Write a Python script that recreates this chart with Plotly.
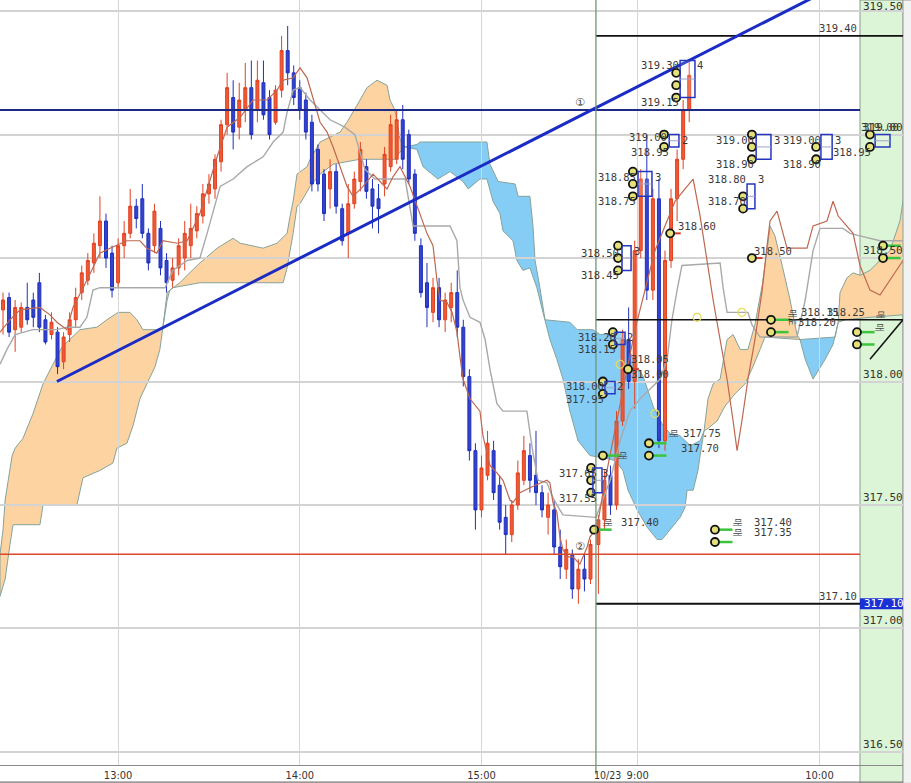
import plotly.graph_objects as go

# ---------------- time axis (minute slots, two sessions) ----------------
def slot(day, hhmm):
    h, m = (int(v) for v in hhmm.split(":"))
    if day == 1:
        return h * 60 + m - (12 * 60 + 21)
    return 196.6 + h * 60 + m - (8 * 60 + 46)

def fmt(total):
    return f"{total // 60}:{total % 60:02d}"

day1_times = [fmt(12 * 60 + 22 + 2 * i) for i in range(98)]
day2_times = [fmt(8 * 60 + 47 + 2 * i) for i in range(16)]

tick_times = [(1, "13:00"), (1, "14:00"), (1, "15:00"), (2, "9:00"), (2, "10:00")]
tick_text = ["13:00", "14:00", "15:00", "9:00", "10:00"]
day_break = (2, "8:46")
date_label = "10/23"

# ---------------- candles ----------------
day1_open = [318.29,318.34,318.21,318.22,318.30,318.33,318.40,318.25,318.19,318.20,
             318.08,318.19,318.25,318.36,318.41,318.48,318.55,318.65,318.52,318.40,
             318.55,318.60,318.71,318.74,318.60,318.55,318.62,318.49,318.41,318.46,
             318.50,318.55,318.61,318.67,318.76,318.78,318.89,319.04,319.15,319.03,
             319.10,319.19,319.10,319.21,319.15,319.05,319.18,319.34,319.25,319.19,
             319.14,319.05,318.94,318.84,318.78,318.85,318.70,318.60,318.72,318.81,
             318.87,318.78,318.74,318.80,318.87,318.90,319.06,319.00,318.84,318.55,
             318.40,318.28,318.38,318.25,318.30,318.36,318.22,318.02,317.72,317.48,
             317.62,317.72,317.58,317.45,317.38,317.50,317.60,317.70,317.62,317.55,
             317.45,317.48,317.33,317.24,317.30,317.16,317.24,317.20]
day1_high = [318.36,318.36,318.33,318.32,318.40,318.36,318.44,318.27,318.28,318.22,
             318.20,318.28,318.38,318.47,318.52,318.60,318.75,318.68,318.55,318.58,
             318.65,318.78,318.74,318.80,318.62,318.72,318.65,318.52,318.50,318.58,
             318.65,318.72,318.71,318.80,318.84,318.92,319.06,319.25,319.22,319.21,
             319.29,319.30,319.30,319.30,319.18,319.20,319.40,319.44,319.28,319.22,
             319.17,319.08,318.96,318.86,318.90,318.88,318.72,318.80,318.85,318.97,
             318.90,318.82,318.80,318.95,319.08,319.10,319.12,319.02,318.86,318.58,
             318.48,318.42,318.42,318.36,318.40,318.45,318.25,318.05,317.75,317.70,
             317.80,317.76,317.62,317.50,317.52,317.68,317.78,317.75,317.80,317.58,
             317.55,317.52,317.40,317.36,317.32,317.28,317.30,317.36]
day1_low = [318.19,318.18,318.12,318.20,318.23,318.22,318.20,318.15,318.17,318.03,
            318.05,318.16,318.22,318.33,318.39,318.44,318.50,318.46,318.34,318.38,
            318.50,318.58,318.62,318.58,318.45,318.52,318.43,318.36,318.38,318.43,
            318.45,318.50,318.58,318.64,318.72,318.74,318.85,319.00,318.94,318.98,
            319.05,318.98,319.05,319.06,318.98,319.04,319.15,319.20,319.12,319.06,
            318.98,318.77,318.77,318.65,318.70,318.68,318.55,318.50,318.70,318.77,
            318.74,318.62,318.60,318.75,318.85,318.88,318.86,318.80,318.57,318.34,
            318.22,318.24,318.22,318.20,318.24,318.18,317.98,317.68,317.40,317.45,
            317.60,317.52,317.40,317.30,317.35,317.48,317.58,317.55,317.50,317.45,
            317.38,317.30,317.20,317.20,317.12,317.10,317.15,317.18]
day1_close = [318.33,318.20,318.30,318.30,318.25,318.26,318.22,318.16,318.24,318.06,
              318.18,318.25,318.34,318.44,318.49,318.56,318.65,318.50,318.37,318.55,
              318.60,318.71,318.66,318.60,318.48,318.69,318.46,318.40,318.46,318.55,
              318.60,318.62,318.68,318.76,318.80,318.90,319.04,319.19,319.01,319.14,
              319.19,319.00,319.22,319.08,319.00,319.18,319.34,319.25,319.15,319.10,
              319.01,318.80,318.80,318.68,318.85,318.71,318.57,318.72,318.82,318.94,
              318.77,318.71,318.70,318.92,319.04,319.06,318.90,318.82,318.60,318.36,
              318.30,318.38,318.25,318.33,318.36,318.22,318.02,317.72,317.48,317.65,
              317.75,317.55,317.43,317.38,317.50,317.63,317.72,317.60,317.55,317.48,
              317.50,317.33,317.25,317.32,317.16,317.24,317.20,317.34]

day2_open = [317.34,317.44,317.62,317.50,317.84,318.17,318.00,318.53,318.82,318.37,318.74,317.76,318.49,318.74,318.90,319.10]
day2_high = [317.46,317.64,317.66,317.88,318.21,318.30,318.57,318.86,319.00,318.78,318.82,318.53,318.78,318.94,319.14,319.30]
day2_low = [317.14,317.40,317.46,317.48,317.82,317.97,317.89,318.50,318.33,318.33,317.73,317.72,318.46,318.65,318.86,319.05]
day2_close = [317.44,317.60,317.50,317.84,318.17,318.00,318.53,318.82,318.37,318.74,317.76,318.49,318.74,318.90,319.10,319.24]

# ---------------- ichimoku clouds (x = minute slot, y = price) ----------------
kumo1_upper_x = [0,1.0,1.7,4.0,5.0,7.6,10.9,14.2,17.5,20.5,26.4,32.0,35.3,39.0,42.9,45.2,47.2,51.8,53.8,55.2,56.1,59.4,61.8,66.0,71.7,77.0,79.3,86.9,91.5,94.8,95.8,96.8,98.1,101.4,102.4,105.7,112.3,114.6,118.9,121.2,124.5,127.8,128.8,130.4,132.1,133.8]
kumo1_upper_y = [317.30,317.40,317.52,317.70,317.73,317.77,317.87,317.99,318.07,318.14,318.21,318.22,318.25,318.28,318.28,318.25,318.21,318.21,318.22,318.33,318.37,318.40,318.43,318.48,318.54,318.58,318.56,318.54,318.56,318.60,318.67,318.73,318.84,318.87,318.90,318.97,319.01,319.05,319.14,319.19,319.22,319.20,319.14,319.10,318.98,318.95]
kumo1_lower_x = [131.4,130.4,118.9,110.0,105.7,102.4,99.1,98.1,96.8,95.8,94.8,93.5,66.0,57.1,55.2,53.8,52.8,51.2,48.5,46.2,43.9,41.9,38.6,37.3,33.0,27.4,25.4,14.2,13.2,4.3,3.3,1.7,0]
kumo1_lower_y = [318.92,318.90,318.90,318.88,318.84,318.79,318.72,318.71,318.60,318.53,318.46,318.40,318.40,318.38,318.36,318.22,318.13,318.06,317.99,317.93,317.82,317.75,317.73,317.67,317.64,317.61,317.50,317.50,317.42,317.42,317.34,317.20,317.13]

kumo2_upper_x = [133.8,137.7,138.7,160.8,161.8,164.5,170.1,171.1,175.0,176.0,176.7,178.3,180.0,188.2,190.6,195.8,198.2,205.7,209.0,212.4,215.7,219.0,221.3,224.6,228.0,231.2,232.5]
kumo2_upper_y = [318.95,318.96,318.97,318.97,318.88,318.81,318.80,318.75,318.75,318.63,318.49,318.38,318.25,318.24,318.21,318.21,318.19,318.20,318.09,318.02,317.90,317.82,317.79,317.78,317.74,317.76,317.80]
kumo2_lower_x = [231.2,230.5,228.9,226.9,226.2,224.6,221.3,218.6,217.0,213.7,210.4,207.4,205.7,203.1,199.8,194.8,190.9,188.2,185.9,183.9,181.6,179.3,177.3,175.0,172.7,170.7,169.4,166.1,165.1,162.8,160.8,158.5,154.6,152.9,148.6,144.6,139.7,137.7]
kumo2_lower_y = [317.70,317.64,317.56,317.56,317.49,317.45,317.40,317.36,317.36,317.41,317.48,317.56,317.64,317.68,317.69,317.70,317.76,317.88,318.01,318.09,318.17,318.28,318.38,318.46,318.45,318.49,318.57,318.61,318.68,318.73,318.82,318.82,318.78,318.81,318.85,318.82,318.87,318.94]

kumo3_upper_x = [232.5,233.8,235.5,237.8,240.1,242.1,244.4,247.0,249.3,251.7,253.3,254.3,255.9,258.3,260.9,263.2,264.2]
kumo3_upper_y = [317.80,317.93,317.99,318.01,318.17,318.19,318.13,318.13,318.23,318.39,318.53,318.63,318.59,318.47,318.33,318.19,318.17]
kumo3_lower_x = [252.6,251.0,248.3,246.0,242.7,239.4,236.8,233.8]
kumo3_lower_y = [318.18,318.13,318.05,317.99,317.95,317.90,317.84,317.81]

kumo4_x = [264.2,275.8,276.8,275.1,272.5,268.5,265.9]
kumo4_y = [318.17,318.18,318.24,318.15,318.09,318.01,318.09]

kumo5_x = [276.8,277.4,279.7,281.7,284.0,287.3,290.6,293.9,297.2,298.2,298.2,287.3,279.1]
kumo5_y = [318.24,318.36,318.42,318.44,318.43,318.45,318.49,318.53,318.65,318.73,318.27,318.26,318.25]

# ---------------- conversion / base lines ----------------
tenkan_x = [0,3.3,6.6,13.2,16.5,18.8,22.1,24.1,28.7,33.0,36.3,41.9,46.2,48.5,51.8,53.8,58.5,61.8,66.0,68.4,71.7,75.0,79.3,83.6,88.2,91.5,93.5,96.8,99.1,101.4,103.4,105.7,108.0,110.0,112.3,114.6,116.6,119.9,123.2,127.8,129.8,132.1,135.4,137.7,141.0,143.0,144.3,145.3,147.6,149.3,150.9,151.9,152.9,155.2,158.5,159.5,161.8,164.1,166.1,168.4,169.4,171.7,175.0,180.6,181.6,182.6,183.9,184.9,185.9,187.3,189.2,191.5,193.9,194.8,197.2,199.8,203.1,206.4,209.7,213.0,216.3,219.6,222.9,226.2,228.9,231.2,233.5,235.5,237.8,240.1,242.1,243.4,245.0,247.0,249.3,251.7,253.3,254.3,256.6,258.3,259.9,266.5,268.5,273.1,275.1,276.8,279.7,281.7,284.0,287.3,290.6,293.9,298.2]
tenkan_y = [318.20,318.25,318.29,318.30,318.27,318.24,318.21,318.30,318.41,318.52,318.54,318.57,318.57,318.54,318.52,318.57,318.56,318.57,318.68,318.78,318.91,319.03,319.07,319.14,319.14,319.18,319.22,319.23,319.27,319.23,319.15,319.05,319.01,318.95,318.87,318.79,318.75,318.79,318.84,318.78,318.83,318.87,318.79,318.71,318.60,318.55,318.41,318.33,318.32,318.28,318.20,318.10,318.01,317.93,317.88,317.78,317.66,317.63,317.60,317.52,317.51,317.55,317.57,317.60,317.59,317.51,317.47,317.37,317.32,317.29,317.29,317.26,317.33,317.37,317.41,317.60,317.80,318.01,318.21,318.37,318.53,318.63,318.73,318.78,318.82,318.67,318.49,318.33,318.17,318.01,317.84,317.72,317.84,318.01,318.17,318.37,318.55,318.65,318.69,318.61,318.54,318.54,318.63,318.65,318.73,318.67,318.63,318.60,318.47,318.37,318.35,318.41,318.49]

kijun_x = [0,2.3,5.0,10.9,18.8,22.1,26.4,28.7,30.7,33.0,54.5,57.1,61.8,66.0,68.4,70.3,72.7,77.0,81.6,86.9,90.2,93.5,94.8,96.8,99.1,102.4,105.7,109.0,113.9,117.2,120.5,123.8,130.4,133.8,136.4,148.6,150.9,151.9,152.9,155.2,158.5,160.2,161.8,164.1,166.1,174.0,176.0,177.7,180.6,182.6,184.9,185.9,196.8,201.5,204.8,208.0,211.4,214.7,218.0,220.3,221.9,223.6,225.2,237.8,238.8,240.1,247.0,248.3,251.0,263.2,265.9,268.5,270.8,278.4,280.7,284.0,290.6,298.2]
kijun_y = [318.07,318.13,318.19,318.21,318.21,318.22,318.22,318.26,318.37,318.38,318.38,318.45,318.49,318.50,318.60,318.68,318.79,318.82,318.87,318.91,318.97,319.01,319.09,319.18,319.19,319.14,319.10,319.06,319.03,319.00,318.86,318.82,318.82,318.82,318.63,318.63,318.57,318.38,318.33,318.26,318.24,318.17,318.05,317.91,317.88,317.88,317.71,317.60,317.59,317.53,317.48,317.46,317.45,317.60,317.76,317.88,317.93,317.97,318.01,318.09,318.25,318.37,318.47,318.48,318.38,318.28,318.28,318.23,318.18,318.18,318.33,318.53,318.62,318.62,318.60,318.59,318.57,318.57]

# ---------------- drawn lines ----------------
resist_1_price = 319.10      # navy line (1)
support_2_price = 317.30     # red line (2)
level_high = 319.40
level_mid = 318.25
level_low = 317.10
trend_x = [18.8, 298.2]
trend_y = [318.00, 319.74]
panel_diag_x = [287.3, 298.2]
panel_diag_y = [318.09, 318.25]

# ---------------- order markers / labels ----------------
marker_x = [223.3,223.3,223.3,219.3,219.3,209.0,209.0,209.0,248.3,248.3,248.3,269.5,269.5,287.3,287.3,245.4,245.4,204.1,204.1,204.1,221.3,248.3,202.4,202.4,207.4,199.1,199.1,214.3,214.3,195.2,195.2,195.2,199.1,196.2,236.1,236.1,254.6,254.6,283.0,283.0,291.6,291.6]
marker_y = [319.25,319.20,319.15,319.00,318.95,318.85,318.80,318.75,319.00,318.95,318.90,318.95,318.90,319.00,318.95,318.75,318.70,318.55,318.50,318.45,318.60,318.50,318.20,318.15,318.05,318.00,317.95,317.75,317.70,317.65,317.60,317.55,317.70,317.40,317.40,317.35,318.25,318.20,318.20,318.15,318.55,318.50]
green_tick_x = [214.3,214.3,199.1,196.2,236.1,236.1,254.6,254.6,283.0,283.0,291.6,291.6]
green_tick_y = [317.75,317.70,317.70,317.40,317.40,317.35,318.25,318.20,318.20,318.15,318.55,318.50]
red_tick_x = [221.3,248.3,207.4]
red_tick_y = [318.60,318.50,318.05]
faint_x = [204.8,230.2,245.0,216.3]
faint_y = [318.07,318.26,318.28,317.87]

box_x0 = [224.6,221.0,210.7,249.7,271.1,289.0,246.7,205.4,203.1,199.8,195.8]
box_x1 = [229.5,224.2,215.3,254.6,274.8,293.9,249.3,208.4,206.4,203.1,198.8]
box_y0 = [319.15,318.95,318.75,318.90,318.90,318.95,318.70,318.45,318.15,317.95,317.55]
box_y1 = [319.30,319.00,318.85,319.00,319.00,319.00,318.80,318.55,318.20,318.00,317.65]

label_text = ["319.30","319.15","4","319.00","318.95","2","318.85","318.75","3","319.00","318.90","3",
              "319.00","318.90","3","319.00","318.95","318.80","318.70","3","318.50","318.45","3",
              "318.60","318.50","318.20","318.15","2","318.05","318.00","318.00","317.95","2",
              "317.75","317.70","317.65","317.55","3","317.40","317.40","317.35","318.15","318.20",
              "318.25","319.40","317.10"]
label_x = [218.0,218.0,231.2,214.0,214.7,226.2,203.8,203.8,217.3,242.7,242.7,256.6,
           264.9,264.9,276.8,290.6,281.4,240.1,240.1,251.3,198.2,198.2,210.4,
           230.2,255.3,197.2,197.2,208.1,214.7,214.7,193.2,193.2,204.8,
           231.8,231.2,190.9,190.9,199.8,211.2,255.2,255.2,270.8,269.8,
           279.5,276.8,276.8]
label_y = [319.28,319.13,319.28,318.99,318.93,318.98,318.83,318.73,318.83,318.98,318.88,318.98,
           318.98,318.88,318.98,319.03,318.93,318.82,318.73,318.82,318.52,318.43,318.53,
           318.63,318.53,318.18,318.13,318.18,318.09,318.03,317.98,317.93,317.98,
           317.79,317.73,317.63,317.53,317.63,317.43,317.43,317.39,318.28,318.24,
           318.28,319.43,317.13]

kr_text = ["매", "매", "매", "매", "매", "매도", "매", "매"]
kr_x = [200.8, 243.7, 243.7, 222.3, 205.4, 261.9, 290.6, 290.6]
kr_y = [317.43, 317.43, 317.39, 317.79, 317.70, 318.26, 318.27, 318.22]

circled_text = ["①", "②"]
circled_x = [191.5, 191.5]
circled_y = [319.13, 317.33]

y_levels = [319.5, 319.0, 318.5, 318.0, 317.5, 317.0, 316.5]

# ======================= figure =======================
X_MAX = 298.2
Y_RANGE = [316.447, 319.545]
PANEL_X0 = 284.0

fig = go.Figure()

cx = [slot(1, t) for t in day1_times] + [slot(2, t) for t in day2_times]
fig.add_trace(go.Candlestick(
    x=cx,
    open=day1_open + day2_open, high=day1_high + day2_high,
    low=day1_low + day2_low, close=day1_close + day2_close,
    increasing=dict(line=dict(color="#e2401f", width=1), fillcolor="#ef5a36"),
    decreasing=dict(line=dict(color="#1f2fbf", width=1), fillcolor="#3444cc"),
    whiskerwidth=0, showlegend=False, hoverinfo="skip"))

fig.add_trace(go.Scatter(x=kijun_x, y=kijun_y, mode="lines",
                         line=dict(color="#a9a9a9", width=1.4), showlegend=False))
fig.add_trace(go.Scatter(x=tenkan_x, y=tenkan_y, mode="lines",
                         line=dict(color="#bf6750", width=1.2), showlegend=False))

def hline(price, x0, x1, color, width):
    fig.add_trace(go.Scatter(x=[x0, x1], y=[price, price], mode="lines",
                             line=dict(color=color, width=width), showlegend=False,
                             hoverinfo="skip"))

day_start = slot(*day_break) + 0.2
hline(resist_1_price, 0, PANEL_X0, "#1f2a86", 2)
hline(support_2_price, 0, PANEL_X0, "#d9472c", 1.5)
hline(level_high, day_start, X_MAX, "#111111", 1.8)
hline(level_mid, day_start, X_MAX, "#111111", 1.6)
hline(level_low, day_start, PANEL_X0, "#111111", 1.8)

fig.add_trace(go.Scatter(x=trend_x, y=trend_y, mode="lines",
                         line=dict(color="#1a2cc4", width=3), showlegend=False))
fig.add_trace(go.Scatter(x=panel_diag_x, y=panel_diag_y, mode="lines",
                         line=dict(color="#111111", width=1.5), showlegend=False))

# short ticks from markers
def ticks(xs, ys, length):
    sx, sy = [], []
    for a, b in zip(xs, ys):
        sx += [a, a + length, None]
        sy += [b, b, None]
    return sx, sy

gx, gy = ticks(green_tick_x, green_tick_y, 5.8)
fig.add_trace(go.Scatter(x=gx, y=gy, mode="lines", line=dict(color="#3cc43c", width=2.5),
                         showlegend=False))
rx, ry = ticks(red_tick_x, red_tick_y, 3.5)
fig.add_trace(go.Scatter(x=rx, y=ry, mode="lines", line=dict(color="#d83a2a", width=2),
                         showlegend=False))

fig.add_trace(go.Scatter(x=faint_x, y=faint_y, mode="markers",
                         marker=dict(symbol="circle-open", size=8, color="#e8dc58",
                                     line=dict(width=1.2)), showlegend=False))
fig.add_trace(go.Scatter(x=marker_x, y=marker_y, mode="markers",
                         marker=dict(symbol="circle", size=8, color="#e4e07a",
                                     line=dict(color="#111111", width=1.8)), showlegend=False))

shapes = []
# right price panel
px0 = PANEL_X0 / X_MAX
shapes.append(dict(type="rect", xref="paper", yref="paper", x0=px0, x1=1, y0=-0.024, y1=1,
                   fillcolor="#dcf5d6", line=dict(color="#8c9a8c", width=1), layer="below"))
shapes.append(dict(type="rect", xref="paper", yref="paper", x0=1, x1=1.0095, y0=-0.024, y1=1,
                   fillcolor="#f2f2f2", line=dict(color="#9a9a9a", width=1), layer="below"))

def poly(xs, ys):
    return "M " + " L ".join(f"{a},{b}" for a, b in zip(xs, ys)) + " Z"

ORANGE = "#fdd3a1"
BLUE = "#86cdf6"
EDGE = dict(color="#85a39a", width=1)
for xs, ys, col in [
    (kumo1_upper_x + kumo1_lower_x, kumo1_upper_y + kumo1_lower_y, ORANGE),
    (kumo2_upper_x + kumo2_lower_x, kumo2_upper_y + kumo2_lower_y, BLUE),
    (kumo3_upper_x + kumo3_lower_x, kumo3_upper_y + kumo3_lower_y, ORANGE),
    (kumo4_x, kumo4_y, BLUE),
    (kumo5_x, kumo5_y, ORANGE),
]:
    shapes.append(dict(type="path", xref="x", yref="y", path=poly(xs, ys),
                       fillcolor=col, line=EDGE, layer="below"))

# session separator
shapes.append(dict(type="line", xref="x", yref="paper", x0=slot(*day_break) + 0.2,
                   x1=slot(*day_break) + 0.2, y0=-0.012, y1=1,
                   line=dict(color="#6f9478", width=1.3)))
# bottom frame of time label band
shapes.append(dict(type="line", xref="paper", yref="paper", x0=0, x1=1, y0=-0.0225, y1=-0.0225,
                   line=dict(color="#777777", width=1.2)))

# order boxes
for a, b, c, d in zip(box_x0, box_x1, box_y0, box_y1):
    shapes.append(dict(type="rect", xref="x", yref="y", x0=a, x1=b, y0=c, y1=d,
                       line=dict(color="#2436c0", width=1.5), fillcolor="rgba(255,255,255,0.15)"))
    shapes.append(dict(type="line", xref="x", yref="y", x0=a, x1=b, y0=(c + d) / 2, y1=(c + d) / 2,
                       line=dict(color="#a0a0c8", width=1)))

# current-price highlight on the axis
shapes.append(dict(type="rect", xref="paper", yref="y", x0=px0, x1=1, y0=level_low - 0.022,
                   y1=level_low + 0.022, fillcolor="#1a30d4", line=dict(width=0)))

annotations = []
LBL = dict(family="DejaVu Sans Mono, monospace", size=10.5, color="#3a3a3a")
for t, a, b in zip(label_text, label_x, label_y):
    annotations.append(dict(x=a, y=b, text=t, showarrow=False, font=LBL,
                            xanchor="center", yanchor="middle"))
for t, a, b in zip(kr_text, kr_x, kr_y):
    annotations.append(dict(x=a, y=b, text=t, showarrow=False, textangle=90,
                            font=dict(family="Noto Sans CJK KR", size=9, color="#444444")))
for t, a, b in zip(circled_text, circled_x, circled_y):
    annotations.append(dict(x=a, y=b, text=t, showarrow=False,
                            font=dict(family="DejaVu Sans", size=11, color="#444444")))

AX = dict(family="DejaVu Sans Mono, monospace", size=11, color="#333333")
for lv in y_levels:
    if lv == max(y_levels):
        annotations.append(dict(x=px0 + 0.002, xref="paper", y=1, yref="paper",
                                text=f"{lv:.2f}", showarrow=False, xanchor="left",
                                yanchor="top", font=AX, borderpad=0, yshift=1))
    else:
        annotations.append(dict(x=px0 + 0.002, xref="paper", y=lv, yref="y", text=f"{lv:.2f}",
                                showarrow=False, xanchor="left", yanchor="bottom", font=AX,
                                borderpad=0))
annotations.append(dict(x=px0 + 0.002, xref="paper", y=level_low, yref="y",
                        text=f"{level_low:.2f}", showarrow=False, xanchor="left",
                        yanchor="middle", font=dict(family="DejaVu Sans Mono, monospace",
                                                    size=11, color="#ffffff")))
annotations.append(dict(x=slot(*day_break) + 4, xref="x", y=0, yref="paper", text=date_label,
                        showarrow=False, yanchor="top", yshift=-3, borderpad=0,
                        font=dict(family="Liberation Sans Narrow, DejaVu Sans Condensed, sans-serif",
                                  size=10.5, color="#333333")))

fig.update_layout(
    width=911, height=783,
    margin=dict(l=0, r=8, t=0, b=18),
    paper_bgcolor="#ffffff", plot_bgcolor="#ffffff",
    showlegend=False,
    shapes=shapes, annotations=annotations,
    xaxis=dict(range=[0, X_MAX], rangeslider=dict(visible=False),
               tickvals=[slot(d, t) for d, t in tick_times], ticktext=tick_text,
               showgrid=True, gridcolor="#d6d6d6", gridwidth=1.3, zeroline=False,
               showline=True, linecolor="#8a8a8a", linewidth=1.2, ticks="",
               tickfont=dict(family="Liberation Sans Narrow, DejaVu Sans Condensed, sans-serif",
                             size=11, color="#333333"), fixedrange=True),
    yaxis=dict(range=Y_RANGE, tickvals=y_levels, showticklabels=False,
               showgrid=True, gridcolor="#d3d3d3", gridwidth=1.5, zeroline=False,
               fixedrange=True),
)

fig.write_html("out.html", config={"displayModeBar": False},
               post_script="document.body.style.margin='0';document.body.style.overflow='hidden';")
